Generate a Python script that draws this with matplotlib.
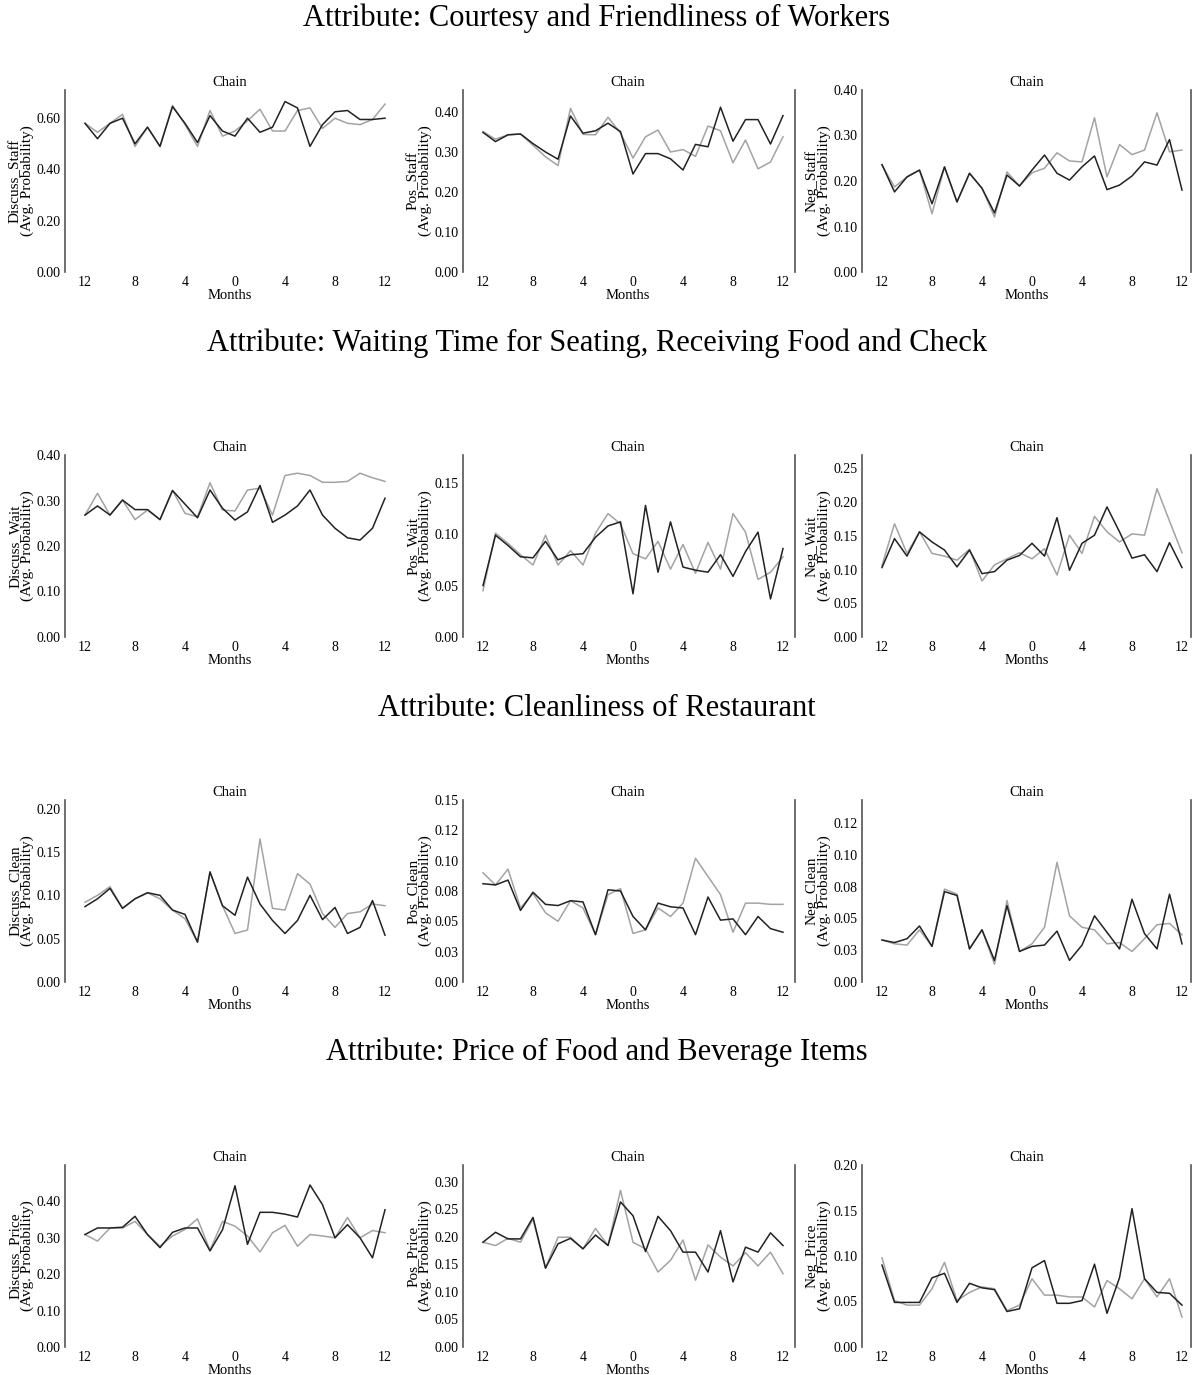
import numpy as np
import matplotlib
matplotlib.use("Agg")
import matplotlib.pyplot as plt
from matplotlib.lines import Line2D

plt.rcParams['font.family'] = ['Liberation Serif', 'DejaVu Serif']

months = np.arange(-12, 13)
month_ticks = [-12, -8, -4, 0, 4, 8, 12]
month_labels = ["12", "8", "4", "0", "4", "8", "12"]

row_titles = [
    "Attribute: Courtesy and Friendliness of Workers",
    "Attribute: Waiting Time for Seating, Receiving Food and Check",
    "Attribute: Cleanliness of Restaurant",
    "Attribute: Price of Food and Beverage Items",
]

ylabels = [
    ["Discuss_Staff", "Pos_Staff", "Neg_Staff"],
    ["Discuss_Wait", "Pos_Wait", "Neg_Wait"],
    ["Discuss_Clean", "Pos_Clean", "Neg_Clean"],
    ["Discuss_Price", "Pos_Price", "Neg_Price"],
]

# --- Courtesy / staff ---
discuss_staff_black = [0.58, 0.52, 0.58, 0.60, 0.50, 0.565, 0.49, 0.645, 0.58, 0.505, 0.61, 0.55, 0.53,
                       0.60, 0.545, 0.565, 0.665, 0.64, 0.49, 0.575, 0.625, 0.63, 0.595, 0.595, 0.60]
discuss_staff_gray = [0.58, 0.545, 0.58, 0.615, 0.49, 0.565, 0.49, 0.65, 0.575, 0.49, 0.63, 0.53, 0.55,
                      0.59, 0.635, 0.55, 0.55, 0.63, 0.64, 0.56, 0.60, 0.58, 0.575, 0.595, 0.655]
pos_staff_black = [0.349, 0.326, 0.343, 0.345, 0.321, 0.30, 0.282, 0.39, 0.347, 0.353, 0.372, 0.351, 0.245,
                   0.296, 0.296, 0.283, 0.255, 0.319, 0.313, 0.412, 0.327, 0.381, 0.381, 0.32, 0.391]
pos_staff_gray = [0.351, 0.332, 0.343, 0.345, 0.317, 0.288, 0.266, 0.409, 0.344, 0.343, 0.387, 0.347, 0.285,
                  0.338, 0.355, 0.30, 0.306, 0.289, 0.365, 0.353, 0.273, 0.33, 0.258, 0.275, 0.338]
neg_staff_black = [0.236, 0.176, 0.209, 0.224, 0.15, 0.231, 0.154, 0.217, 0.184, 0.13, 0.213, 0.189, 0.224,
                   0.257, 0.217, 0.202, 0.231, 0.255, 0.181, 0.191, 0.211, 0.242, 0.235, 0.291, 0.18]
neg_staff_gray = [0.235, 0.187, 0.209, 0.224, 0.128, 0.231, 0.154, 0.217, 0.184, 0.121, 0.22, 0.189, 0.218,
                  0.228, 0.262, 0.244, 0.242, 0.339, 0.209, 0.28, 0.258, 0.268, 0.35, 0.264, 0.268]

# --- Waiting time ---
discuss_wait_black = [0.268, 0.288, 0.268, 0.301, 0.28, 0.28, 0.258, 0.322, 0.292, 0.262, 0.323, 0.283, 0.257,
                      0.275, 0.333, 0.252, 0.268, 0.288, 0.323, 0.268, 0.239, 0.218, 0.213, 0.239, 0.305]
discuss_wait_gray = [0.268, 0.316, 0.268, 0.301, 0.258, 0.279, 0.258, 0.322, 0.272, 0.264, 0.339, 0.279, 0.277,
                     0.323, 0.327, 0.268, 0.355, 0.36, 0.355, 0.34, 0.34, 0.342, 0.36, 0.35, 0.342]
pos_wait_black = [0.05, 0.099, 0.089, 0.078, 0.077, 0.093, 0.075, 0.08, 0.081, 0.097, 0.108, 0.112, 0.042,
                  0.128, 0.063, 0.112, 0.068, 0.065, 0.063, 0.08, 0.059, 0.083, 0.102, 0.037, 0.086]
pos_wait_gray = [0.045, 0.101, 0.091, 0.08, 0.07, 0.099, 0.07, 0.084, 0.07, 0.101, 0.12, 0.11, 0.081,
                 0.076, 0.093, 0.066, 0.09, 0.062, 0.092, 0.066, 0.12, 0.102, 0.056, 0.063, 0.078]
neg_wait_black = [0.103, 0.146, 0.12, 0.156, 0.141, 0.129, 0.104, 0.129, 0.094, 0.097, 0.114, 0.121, 0.139,
                  0.12, 0.177, 0.099, 0.139, 0.151, 0.193, 0.156, 0.117, 0.122, 0.097, 0.14, 0.103]
neg_wait_gray = [0.106, 0.168, 0.124, 0.156, 0.124, 0.12, 0.114, 0.13, 0.083, 0.107, 0.116, 0.125, 0.116,
                 0.131, 0.092, 0.151, 0.124, 0.179, 0.156, 0.141, 0.153, 0.151, 0.22, 0.172, 0.125]

# --- Cleanliness ---
discuss_clean_black = [0.087, 0.096, 0.108, 0.085, 0.096, 0.103, 0.10, 0.083, 0.078, 0.046, 0.127, 0.088, 0.077,
                       0.121, 0.09, 0.071, 0.056, 0.071, 0.10, 0.072, 0.086, 0.056, 0.063, 0.094, 0.054]
discuss_clean_gray = [0.092, 0.10, 0.11, 0.085, 0.096, 0.103, 0.096, 0.083, 0.073, 0.046, 0.127, 0.088, 0.056,
                      0.06, 0.165, 0.085, 0.083, 0.125, 0.113, 0.079, 0.063, 0.079, 0.081, 0.09, 0.088]
pos_clean_black = [0.081, 0.08, 0.084, 0.059, 0.074, 0.064, 0.063, 0.067, 0.066, 0.039, 0.076, 0.075, 0.054,
                   0.043, 0.065, 0.062, 0.061, 0.039, 0.07, 0.051, 0.052, 0.039, 0.054, 0.044, 0.041]
pos_clean_gray = [0.09, 0.08, 0.093, 0.061, 0.073, 0.057, 0.05, 0.067, 0.061, 0.039, 0.072, 0.077, 0.04,
                  0.043, 0.061, 0.054, 0.065, 0.102, 0.087, 0.072, 0.041, 0.065, 0.065, 0.064, 0.064]
neg_clean_black = [0.033, 0.031, 0.034, 0.044, 0.028, 0.071, 0.068, 0.026, 0.041, 0.017, 0.06, 0.024, 0.028,
                   0.029, 0.04, 0.017, 0.029, 0.052, 0.039, 0.026, 0.065, 0.038, 0.026, 0.069, 0.03]
neg_clean_gray = [0.033, 0.03, 0.029, 0.041, 0.028, 0.073, 0.069, 0.026, 0.041, 0.014, 0.064, 0.024, 0.03,
                  0.043, 0.094, 0.052, 0.043, 0.041, 0.03, 0.031, 0.024, 0.034, 0.045, 0.046, 0.037]

# --- Price ---
discuss_price_black = [0.309, 0.327, 0.327, 0.329, 0.359, 0.309, 0.273, 0.315, 0.327, 0.327, 0.264, 0.322, 0.443,
                       0.282, 0.37, 0.37, 0.365, 0.357, 0.445, 0.391, 0.30, 0.336, 0.30, 0.245, 0.377]
discuss_price_gray = [0.309, 0.291, 0.327, 0.327, 0.345, 0.309, 0.277, 0.305, 0.323, 0.352, 0.266, 0.345, 0.332,
                      0.305, 0.261, 0.314, 0.334, 0.277, 0.309, 0.305, 0.30, 0.356, 0.30, 0.32, 0.314]
pos_price_black = [0.19, 0.208, 0.196, 0.196, 0.235, 0.143, 0.187, 0.197, 0.178, 0.203, 0.184, 0.263, 0.238,
                   0.173, 0.237, 0.211, 0.172, 0.172, 0.136, 0.211, 0.118, 0.181, 0.172, 0.207, 0.184]
pos_price_gray = [0.19, 0.184, 0.197, 0.19, 0.232, 0.143, 0.199, 0.199, 0.178, 0.215, 0.184, 0.284, 0.19,
                  0.178, 0.136, 0.157, 0.194, 0.121, 0.185, 0.163, 0.147, 0.171, 0.147, 0.172, 0.133]
neg_price_black = [0.09, 0.049, 0.049, 0.049, 0.076, 0.081, 0.049, 0.07, 0.065, 0.063, 0.039, 0.042, 0.087,
                   0.095, 0.048, 0.048, 0.051, 0.091, 0.037, 0.076, 0.152, 0.075, 0.06, 0.059, 0.046]
neg_price_gray = [0.098, 0.051, 0.046, 0.046, 0.064, 0.093, 0.051, 0.06, 0.066, 0.064, 0.04, 0.046, 0.075,
                  0.057, 0.057, 0.055, 0.055, 0.044, 0.073, 0.064, 0.053, 0.075, 0.055, 0.075, 0.033]

black_series = [
    [discuss_staff_black, pos_staff_black, neg_staff_black],
    [discuss_wait_black, pos_wait_black, neg_wait_black],
    [discuss_clean_black, pos_clean_black, neg_clean_black],
    [discuss_price_black, pos_price_black, neg_price_black],
]
gray_series = [
    [discuss_staff_gray, pos_staff_gray, neg_staff_gray],
    [discuss_wait_gray, pos_wait_gray, neg_wait_gray],
    [discuss_clean_gray, pos_clean_gray, neg_clean_gray],
    [discuss_price_gray, pos_price_gray, neg_price_gray],
]

# y ticks per panel
tick_01_04 = [0.0, 0.1, 0.2, 0.3, 0.4]
yticks = [
    [[0.0, 0.2, 0.4, 0.6], tick_01_04, tick_01_04],
    [tick_01_04, [0.0, 0.05, 0.10, 0.15], [0.0, 0.05, 0.10, 0.15, 0.20, 0.25]],
    [[0.0, 0.05, 0.10, 0.15, 0.20], [0.0, 0.025, 0.05, 0.075, 0.10, 0.125, 0.15],
     [0.0, 0.025, 0.05, 0.075, 0.10, 0.125]],
    [tick_01_04, [0.0, 0.05, 0.10, 0.15, 0.20, 0.25, 0.30], [0.0, 0.05, 0.10, 0.15, 0.20]],
]
quarter_labels = ["0.00", "0.03", "0.05", "0.08", "0.10", "0.12", "0.15"]
ytops = [
    [0.71, 0.455, 0.40],
    [0.40, 0.177, 0.27],
    [0.21, 0.15, 0.143],
    [0.50, 0.33, 0.20],
]

W, H = 1194, 1375
fig = plt.figure(figsize=(W / 100, H / 100), dpi=100)
fig.patch.set_facecolor("white")

axes_top_px = [90, 455, 800, 1165]
axes_h_px = 182
axes_left_px = [65, 463, 862]
axes_w_px = 330
title_y_px = [18, 343, 708, 1052]

for r in range(4):
    fig.text(0.5, 1 - title_y_px[r] / H, row_titles[r], ha="center", va="center", fontsize=22)
    for c in range(3):
        ax = fig.add_axes([axes_left_px[c] / W, 1 - (axes_top_px[r] + axes_h_px) / H,
                           axes_w_px / W, axes_h_px / H])
        ax.plot(months, gray_series[r][c], color="#a3a3a3", lw=1.1)
        ax.plot(months, black_series[r][c], color="#222222", lw=1.1)
        ax.set_xlim(-13.6, 12.8)
        ax.set_ylim(0, ytops[r][c])
        ax.set_xticks(month_ticks)
        ax.set_xticklabels(month_labels)
        ax.set_yticks(yticks[r][c])
        if len(yticks[r][c]) > 1 and yticks[r][c][1] == 0.025:
            ax.set_yticklabels(quarter_labels[:len(yticks[r][c])])
        else:
            ax.set_yticklabels(["%.2f" % v for v in yticks[r][c]])
        for s in ["top", "right", "bottom"]:
            ax.spines[s].set_visible(False)
        ax.spines["left"].set_color("#555555")
        ax.spines["left"].set_linewidth(1.2)
        ax.tick_params(length=0, labelsize=10, pad=3)
        ax.set_title("Chain", fontsize=10.5, pad=3)
        ax.set_xlabel("Months", fontsize=10.5, labelpad=0)
        ax.set_ylabel(ylabels[r][c] + "\n(Avg. Probability)", fontsize=11, labelpad=2, linespacing=0.85)

    # stray vertical rules beside the middle and right panels
    y0 = 1 - (axes_top_px[r] + axes_h_px) / H
    y1 = 1 - axes_top_px[r] / H
    for xp in [795, 1191]:
        fig.add_artist(Line2D([xp / W, xp / W], [y0, y1], color="#555555", lw=1.2))

fig.savefig("out.png", dpi=100)
